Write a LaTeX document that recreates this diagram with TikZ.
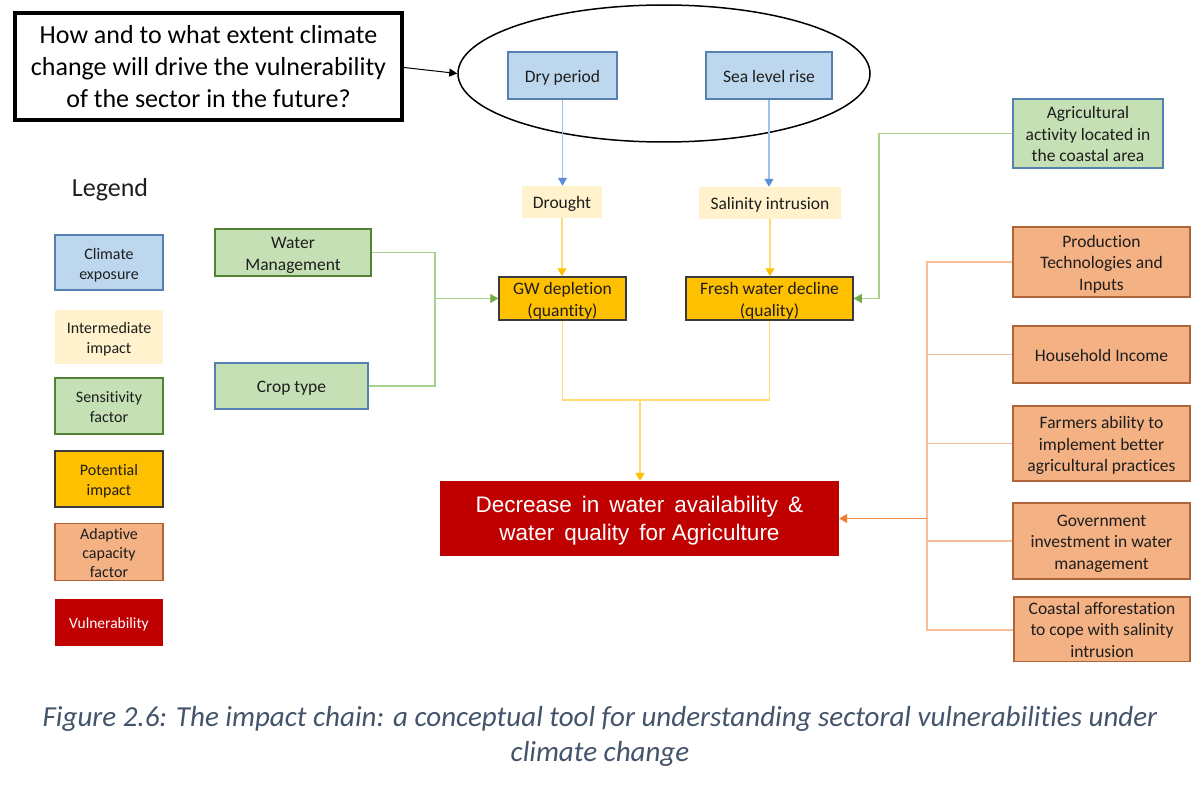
\documentclass[tikz,border=0pt]{standalone}
\usepackage{fontspec}
\setmainfont{Carlito}[Ligatures=CommonOff]
\newfontfamily\arialfont{Liberation Sans}
\usetikzlibrary{arrows.meta,shapes.geometric}

\definecolor{expfill}{HTML}{BDD7EE}
\definecolor{expline}{HTML}{5580B0}
\definecolor{midfill}{HTML}{FFF2CC}
\definecolor{sensfill}{HTML}{C5E0B4}
\definecolor{sensline}{HTML}{548235}
\definecolor{potfill}{HTML}{FFC000}
\definecolor{potline}{HTML}{3A3A3A}
\definecolor{adfill}{HTML}{F4B183}
\definecolor{adline}{HTML}{B0643A}
\definecolor{vulfill}{HTML}{C00000}
\definecolor{txt}{HTML}{1E1E1E}
\definecolor{capcol}{HTML}{44546A}
\definecolor{bluelink}{HTML}{9DC3E6}
\definecolor{bluetip}{HTML}{5B8FD5}
\definecolor{yellink}{HTML}{FFDC73}
\definecolor{yeltip}{HTML}{FFC000}
\definecolor{greenlink}{HTML}{A9D18E}
\definecolor{greentip}{HTML}{70AD47}
\definecolor{orlink}{HTML}{F6BE98}
\definecolor{ortip}{HTML}{ED7D31}

% word gap for the vulnerability box
\newcommand{\wsp}{\hspace{10pt}}
% centred text block, set a little lower than the geometric centre
\newcommand{\bt}[1]{\raisebox{-2.5pt}[\height][\depth]{\begin{tabular}{@{}c@{}}#1\end{tabular}}}

\tikzset{
  box/.style={rectangle, inner sep=0pt, align=center, text=txt,
    font=\fontsize{17.5}{21.5}\selectfont},
  legbox/.style={box, font=\fontsize{16}{20}\selectfont,
    minimum width=108pt},
  exposure/.style={fill=expfill, draw=expline, line width=1.5pt},
  intermediate/.style={fill=midfill},
  sensitivity/.style={fill=sensfill, draw=sensline, line width=1.5pt},
  sensblue/.style={fill=sensfill, draw=expline, line width=1.5pt},
  potential/.style={fill=potfill, draw=potline, line width=1.5pt},
  adaptive/.style={fill=adfill, draw=adline, line width=1.5pt},
  vulner/.style={fill=vulfill, text=white},
  bluearrow/.style={draw=bluelink, line width=1.3pt, arrows={-{Triangle[width=9pt,length=8pt,color=bluetip]}}},
  yelline/.style={draw=yellink, line width=1.3pt},
  yelarrow/.style={yelline, arrows={-{Triangle[width=9pt,length=8pt,color=yeltip]}}},
  greenline/.style={draw=greenlink, line width=1.3pt},
  greenarrow/.style={greenline, arrows={-{Triangle[width=9pt,length=8pt,color=greentip]}}},
  orline/.style={draw=orlink, line width=1.3pt},
  orarrow/.style={draw=ortip!70!orlink, line width=1.3pt, arrows={-{Triangle[width=9pt,length=8pt,color=ortip]}}},
}

\begin{document}
\begin{tikzpicture}[x=1pt,y=-1pt]
\useasboundingbox[fill=white] (0,0) rectangle (1203,800);

% guiding question and the exposure ellipse
\node[rectangle, draw=black, line width=4pt, minimum width=387pt, minimum height=107pt,
      align=center, inner sep=0pt, font=\fontsize{26}{32}\selectfont] (q) at (208.5,66.5)
  {How and to what extent climate\\change will drive the vulnerability\\of the sector in the future?};
\node[ellipse, draw=black, line width=1.5pt, minimum width=412pt, minimum height=137pt] (ell) at (664,73.5) {};
\draw[line width=1pt, -{Triangle[width=8pt,length=8pt]}] (q.east |- 0,67.5) -- (ell.west);

% climate exposure
\node[box, exposure, minimum width=109pt, minimum height=47pt] (dry) at (562.5,75.5) {\bt{Dry period}};
\node[box, exposure, minimum width=126pt, minimum height=47pt] (sea) at (769,75.5) {\bt{Sea level rise}};

% intermediate impacts
\node[box, intermediate, minimum width=80pt, minimum height=32pt] (drought) at (562,202) {\bt{Drought}};
\node[box, intermediate, minimum width=142pt, minimum height=32pt] (sal) at (770,203) {\bt{Salinity intrusion}};

% potential impacts
\node[box, potential, minimum width=127pt, minimum height=39pt] (gw) at (562.5,298.5) {\bt{GW depletion\\(quantity)}};
\node[box, potential, minimum width=167pt, minimum height=43pt] (fw) at (769.5,298.5) {\bt{Fresh water decline\\(quality)}};

% sensitivity factors
\node[box, sensblue, minimum width=150pt, minimum height=69pt] (agri) at (1088,133.5) {\bt{Agricultural\\activity located in\\the coastal area}};
\node[box, sensitivity, minimum width=156pt, minimum height=47pt] (wm) at (293,252.5) {\bt{Water\\Management}};
\node[box, sensblue, minimum width=153pt, minimum height=46pt] (crop) at (291.5,386) {\bt{Crop type}};

% vulnerability
\node[box, vulner, minimum width=399pt, minimum height=75pt,
      font=\arialfont\fontsize{22.5}{28.5}\selectfont] (red) at (639.5,518.5)
  {\bt{Decrease\wsp in\wsp water\wsp availability\wsp \&\\water\wsp quality\wsp for Agriculture}};

% adaptive capacity factors
\node[box, adaptive, minimum width=177pt, minimum height=70pt] (prod) at (1101.5,262) {\bt{Production\\Technologies and\\Inputs}};
\node[box, adaptive, minimum width=177pt, minimum height=57pt] (hh) at (1101.5,354.5) {\bt{Household Income}};
\node[box, adaptive, minimum width=177pt, minimum height=75pt] (farm) at (1101.5,443.5) {\bt{Farmers ability to\\implement better\\agricultural practices}};
\node[box, adaptive, minimum width=177pt, minimum height=76pt] (gov) at (1101.5,541) {\bt{Government\\investment in water\\management}};
\node[box, adaptive, minimum width=176pt, minimum height=62pt] (coast) at (1102,629) {\bt{Coastal afforestation\\to cope with salinity\\intrusion}};

% connectors
\draw[bluearrow] (dry.south) -- (dry.south |- drought.north);
\draw[bluearrow] (sea.south) -- (sea.south |- sal.north);
\draw[yelarrow] (drought.south) -- (drought.south |- gw.north);
\draw[yelarrow] (sal.south) -- (sal.south |- fw.north);

\coordinate (gm) at (435,298.5);
\draw[greenline] (wm.east) -| (gm);
\draw[greenline] (crop.east) -| (gm);
\draw[greenarrow] (gm) -- (gw.west);
\coordinate (gj) at (879,298.5);
\draw[greenline] (agri.west) -| (gj);
\draw[greenarrow] (gj) -- (fw.east);

\coordinate (yj) at (640,400);
\draw[yelline] (gw.south) |- (yj);
\draw[yelline] (fw.south) |- (yj);
\draw[yelarrow] (yj) -- (yj |- red.north);

\coordinate (ob) at (927,630);
\draw[orline] (prod.west) -| (ob) -- (ob -| coast.west);
\draw[orline] (hh.west) -- (hh.west -| ob);
\draw[orline] (farm.west) -- (farm.west -| ob);
\draw[orline] (gov.west) -- (gov.west -| ob);
\coordinate (om) at (927,518.5);
\draw[orarrow] (om) -- (red.east);

% legend
\node[font=\fontsize{26}{30}\selectfont, text=txt] (legend) at (110,190) {Legend};
\node[legbox, exposure, minimum height=55pt] (l1) at (109,262.5) {\bt{Climate\\exposure}};
\node[legbox, intermediate, minimum height=54pt] (l2) at (109,337) {\bt{Intermediate\\impact}};
\node[legbox, sensitivity, minimum height=56pt] (l3) at (109,406) {\bt{Sensitivity\\factor}};
\node[legbox, potential, minimum height=56pt] (l4) at (109,479) {\bt{Potential\\impact}};
\node[legbox, adaptive, minimum height=56pt, font=\fontsize{16}{19}\selectfont] (l5) at (109,552) {\bt{Adaptive\\capacity\\factor}};
\node[legbox, vulner, minimum height=47pt, font=\fontsize{15.5}{19}\selectfont] (l6) at (109,622.5) {\bt{Vulnerability}};

% caption
\node[align=center, text=capcol, font=\itshape\fontsize{29}{35}\selectfont] (cap) at (600,736)
  {Figure 2.6: The impact chain: a conceptual tool for understanding sectoral vulnerabilities under\\climate change};
\end{tikzpicture}
\end{document}
